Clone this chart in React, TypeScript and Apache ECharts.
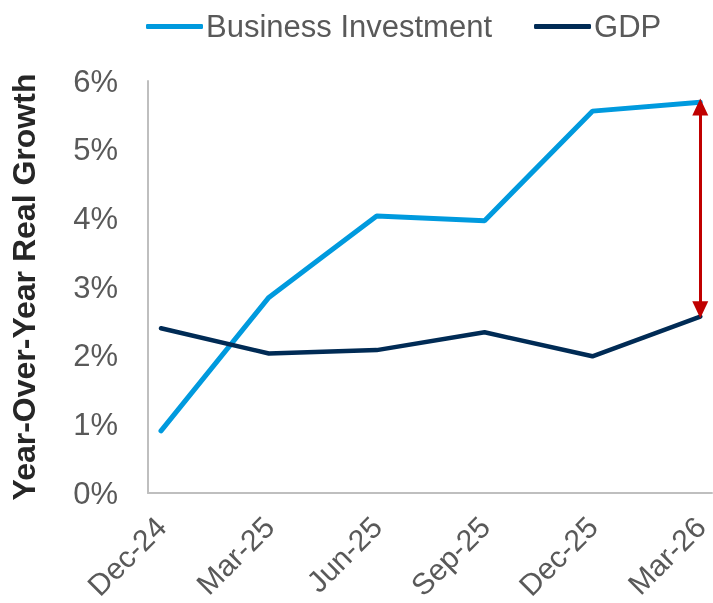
import React, { useEffect, useRef } from "react";
import * as echarts from "echarts";

const categories = ["Dec-24", "Mar-25", "Jun-25", "Sep-25", "Dec-25", "Mar-26"];
const businessInvestment = [0.89, 2.84, 4.03, 3.96, 5.56, 5.69];
const gdp = [2.39, 2.02, 2.07, 2.33, 1.98, 2.56];
const gapArrow = [5.62, 2.66];

const FONT = "'Liberation Sans', Arial, sans-serif";
const AXIS_GREY = "#bfbfbf";
const LABEL_GREY = "#595959";

export default function App() {
  const ref = useRef<HTMLDivElement>(null);
  useEffect(() => {
    if (!ref.current) return;
    const chart = echarts.init(ref.current, null, { renderer: "svg" });
    const last = categories[categories.length - 1];
    chart.setOption({
      animation: false,
      textStyle: { fontFamily: FONT },
      legend: {
        left: 141,
        top: 6,
        itemWidth: 57,
        itemHeight: 5,
        itemGap: 42,
        icon: "roundRect",
        textStyle: { fontSize: 31, color: LABEL_GREY, fontFamily: FONT, padding: [0, 0, 0, -2] },
        data: ["Business Investment", "GDP"],
      },
      grid: [
        { left: 161, right: 10, top: 81, bottom: 110 },
        { left: 143, right: 1, top: 81, bottom: 110 },
      ],
      xAxis: [
        {
          type: "category",
          gridIndex: 0,
          data: categories,
          boundaryGap: false,
          axisLine: { show: false },
          axisTick: { show: false },
          splitLine: { show: false },
          axisLabel: {
            rotate: 45,
            margin: 30,
            fontSize: 30,
            color: LABEL_GREY,
            fontFamily: FONT,
            interval: 0,
          },
        },
        {
          type: "value",
          gridIndex: 1,
          min: 0,
          max: 1,
          axisLine: { show: true, onZero: false, lineStyle: { color: AXIS_GREY, width: 2 } },
          axisTick: { show: false },
          splitLine: { show: false },
          axisLabel: { show: false },
        },
      ],
      yAxis: [
        {
          type: "value",
          gridIndex: 0,
          min: 0,
          max: 6,
          interval: 1,
          show: false,
          splitLine: { show: false },
        },
        {
          type: "value",
          gridIndex: 1,
          min: 0,
          max: 6,
          interval: 1,
          name: "Year-Over-Year Real Growth",
          nameLocation: "middle",
          nameRotate: 90,
          nameGap: 108,
          nameTextStyle: { fontSize: 32, fontWeight: "bold", color: "#262626", fontFamily: FONT },
          axisLine: { show: true, onZero: false, lineStyle: { color: AXIS_GREY, width: 2 } },
          axisTick: { show: false },
          splitLine: { show: false },
          axisLabel: { formatter: "{value}%", fontSize: 31, color: LABEL_GREY, margin: 30, fontFamily: FONT },
        },
      ],
      series: [
        {
          name: "Business Investment",
          type: "line",
          xAxisIndex: 0,
          yAxisIndex: 0,
          data: businessInvestment,
          showSymbol: false,
          symbol: "none",
          color: "#009ADE",
          lineStyle: { width: 5, color: "#009ADE", cap: "round" },
        },
        {
          name: "GDP",
          type: "line",
          xAxisIndex: 0,
          yAxisIndex: 0,
          data: gdp,
          showSymbol: false,
          symbol: "none",
          color: "#002B55",
          lineStyle: { width: 4.5, color: "#002B55", cap: "round" },
          markLine: {
            silent: true,
            symbol: ["triangle", "triangle"],
            symbolSize: [16, 17],
            label: { show: false },
            lineStyle: { color: "#C00000", width: 3, type: "solid" },
            data: [[{ coord: [last, gapArrow[0]] }, { coord: [last, gapArrow[1]] }]],
          },
        },
      ],
    });
    return () => chart.dispose();
  }, []);
  return <div ref={ref} style={{ position: "fixed", left: 0, top: 0, width: 713, height: 603 }} />;
}
